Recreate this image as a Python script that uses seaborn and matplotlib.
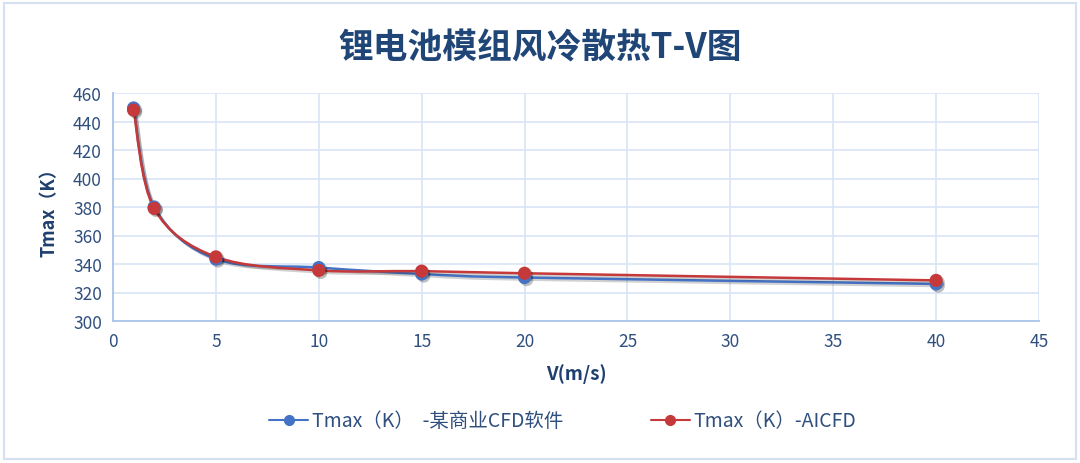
import numpy as np
import pandas as pd
import matplotlib
matplotlib.use("Agg")
import matplotlib.pyplot as plt
import matplotlib.patheffects as pe
from matplotlib.path import Path
from matplotlib.patches import PathPatch, FancyBboxPatch
from matplotlib.lines import Line2D
import seaborn as sns

# data
speed = [1, 2, 5, 10, 15, 20, 40]
tmax_commercial = [449.5, 380, 343.5, 337.5, 333, 330.5, 326]
tmax_aicfd = [448, 379, 345, 335.5, 335, 333.5, 328.5]
series_names = ["Tmax（K）  -某商业CFD软件", "Tmax（K）-AICFD"]
x_ticks = list(range(0, 50, 5))
y_ticks = list(range(300, 480, 20))

BLUE = "#4472C4"
RED = "#C6393A"
TEXT = "#2F4F7F"
GRID = "#D9E4F5"
SPINE = "#A9C4EA"


def smooth_path(xs, ys):
    # Excel style smoothed line: Catmull-Rom segments as cubic Bezier
    pts = np.column_stack([xs, ys]).astype(float)
    verts = [pts[0]]
    codes = [Path.MOVETO]
    n = len(pts)
    for i in range(n - 1):
        p0 = pts[i - 1] if i > 0 else pts[i]
        p1 = pts[i]
        p2 = pts[i + 1]
        p3 = pts[i + 2] if i + 2 < n else pts[i + 1]
        c1 = p1 + (p2 - p0) / 6.0
        c2 = p2 - (p3 - p1) / 6.0
        verts += [c1, c2, p2]
        codes += [Path.CURVE4] * 3
    return Path(verts, codes)


def main():
    sns.set_theme(style="white")
    plt.rcParams["font.family"] = ["Noto Sans CJK SC", "DejaVu Sans"]

    df = pd.DataFrame({
        "V": speed * 2,
        "Tmax": tmax_commercial + tmax_aicfd,
        "series": [series_names[0]] * len(speed) + [series_names[1]] * len(speed),
    })

    fig = plt.figure(figsize=(10.8, 4.64), dpi=100)
    fig.patches.append(FancyBboxPatch(
        (0.004, 0.008), 0.992, 0.984, boxstyle="square,pad=0",
        transform=fig.transFigure, fill=False, edgecolor="#D5E1F2", linewidth=1.5))
    ax = fig.add_axes([113 / 1080, 1 - 322 / 464, 926 / 1080, 228 / 464])

    for color, ys in zip([BLUE, RED], [tmax_commercial, tmax_aicfd]):
        patch = PathPatch(smooth_path(speed, ys), facecolor="none", edgecolor=color,
                          linewidth=1.8, zorder=3)
        patch.set_path_effects([pe.SimpleLineShadow(offset=(1.5, -1.5), alpha=0.2), pe.Normal()])
        ax.add_patch(patch)

    sns.scatterplot(data=df, x="V", y="Tmax", hue="series", palette=[BLUE, RED],
                    s=90, edgecolor="none", legend=False, ax=ax, zorder=4)
    for coll in ax.collections:
        coll.set_path_effects([pe.SimplePatchShadow(offset=(1.5, -1.5), shadow_rgbFace=(0, 0, 0),
                                                    alpha=0.25), pe.Normal()])

    ax.set_xlim(0, 45)
    ax.set_ylim(300, 460)
    ax.set_xticks(x_ticks)
    ax.set_yticks(y_ticks)
    ax.grid(True, color=GRID, linewidth=1.2)
    ax.set_axisbelow(True)
    for side in ["top", "right"]:
        ax.spines[side].set_visible(False)
    for side in ["left", "bottom"]:
        ax.spines[side].set_color(SPINE)
        ax.spines[side].set_linewidth(1.3)
    ax.tick_params(axis="both", labelsize=12.5, colors=TEXT, length=0, pad=8)

    ax.set_xlabel("V(m/s)", fontsize=13.5, fontweight="bold", color="#1F3F6E", labelpad=9)
    ax.set_ylabel("Tmax（K）", fontsize=13, fontweight="bold", color="#1F3F6E", labelpad=10)

    fig.text(0.5, 1 - 48 / 464, "锂电池模组风冷散热T-V图", ha="center", va="center",
             fontsize=25, fontweight="bold", color="#1F4676")

    handles = [
        Line2D([0], [0], color=BLUE, marker="o", markersize=7, linewidth=1.5),
        Line2D([0], [0], color=RED, marker="o", markersize=7, linewidth=1.5),
    ]
    leg = fig.legend(handles, series_names, loc="center", bbox_to_anchor=(0.521, 1 - 422 / 464),
                     ncol=2, frameon=False, fontsize=14, handlelength=2.0, columnspacing=4.5,
                     handletextpad=0.2)
    for t in leg.get_texts():
        t.set_color(TEXT)

    fig.savefig("out.png", dpi=100)
    plt.close(fig)


if __name__ == "__main__":
    main()
